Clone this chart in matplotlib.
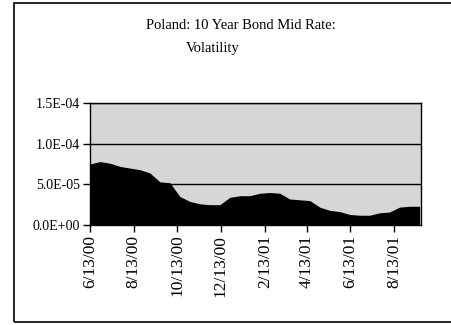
import datetime as dt
import matplotlib
matplotlib.use("Agg")
import matplotlib.pyplot as plt
import matplotlib.dates as mdates
from matplotlib.ticker import FuncFormatter
from matplotlib.patches import Rectangle

# Bi-weekly volatility of the Polish 10Y bond mid rate
start = dt.date(2000, 6, 13)
n_points = 34
dates = [start + dt.timedelta(days=14 * k) for k in range(n_points)]
volatility = [
    7.5e-5, 7.8e-5, 7.6e-5, 7.2e-5, 7.0e-5, 6.8e-5, 6.4e-5, 5.3e-5, 5.2e-5,
    3.5e-5, 2.9e-5, 2.6e-5, 2.5e-5, 2.5e-5, 3.4e-5, 3.6e-5, 3.6e-5, 3.9e-5,
    4.0e-5, 3.9e-5, 3.2e-5, 3.1e-5, 3.0e-5, 2.2e-5, 1.8e-5, 1.65e-5, 1.3e-5,
    1.2e-5, 1.2e-5, 1.5e-5, 1.6e-5, 2.2e-5, 2.3e-5, 2.3e-5,
]

tick_dates = [dt.date(2000, 6, 13), dt.date(2000, 8, 13), dt.date(2000, 10, 13),
              dt.date(2000, 12, 13), dt.date(2001, 2, 13), dt.date(2001, 4, 13),
              dt.date(2001, 6, 13), dt.date(2001, 8, 13)]
tick_labels = ["6/13/00", "8/13/00", "10/13/00", "12/13/00",
               "2/13/01", "4/13/01", "6/13/01", "8/13/01"]
y_ticks = [0.0, 5.0e-5, 1.0e-4, 1.5e-4]

serif = "Liberation Serif"

fig = plt.figure(figsize=(4.51, 3.25), dpi=100)
fig.patch.set_facecolor("white")

# outer chart frame
fig.patches.append(Rectangle((0.031, 0.008), 1.2, 0.983, transform=fig.transFigure,
                             fill=False, edgecolor="black", linewidth=1.2))

fig.text(0.534, 0.923, "Poland: 10 Year Bond Mid Rate:", ha="center", va="center",
         fontsize=10.5, family=serif)
fig.text(0.472, 0.852, "Volatility", ha="center", va="center",
         fontsize=10.5, family=serif)

ax = fig.add_axes([0.1996, 0.3077, 0.7339, 0.3753])
ax.set_facecolor("#d6d6d6")

ax.fill_between(dates, volatility, 0, color="black", linewidth=0, zorder=3)

for y in y_ticks[1:]:
    ax.axhline(y, color="black", linewidth=1.0, zorder=2)

ax.set_xlim(dt.date(2000, 6, 13), dt.date(2001, 9, 20))
ax.set_ylim(0, 1.5e-4)
ax.set_yticks(y_ticks)
ax.yaxis.set_major_formatter(FuncFormatter(lambda v, p: "{:.1E}".format(v)))
ax.set_xticks([mdates.date2num(d) for d in tick_dates])
ax.set_xticklabels(tick_labels, rotation=90, fontsize=12.5, family=serif)
for lab in ax.get_yticklabels():
    lab.set_family(serif)
    lab.set_fontsize(10)

ax.tick_params(axis="both", direction="out", length=5, width=1, colors="black", pad=2)
for side in ["left", "bottom", "top", "right"]:
    ax.spines[side].set_color("black")
    ax.spines[side].set_linewidth(1.0)

fig.savefig("out.png", dpi=100, facecolor="white")
